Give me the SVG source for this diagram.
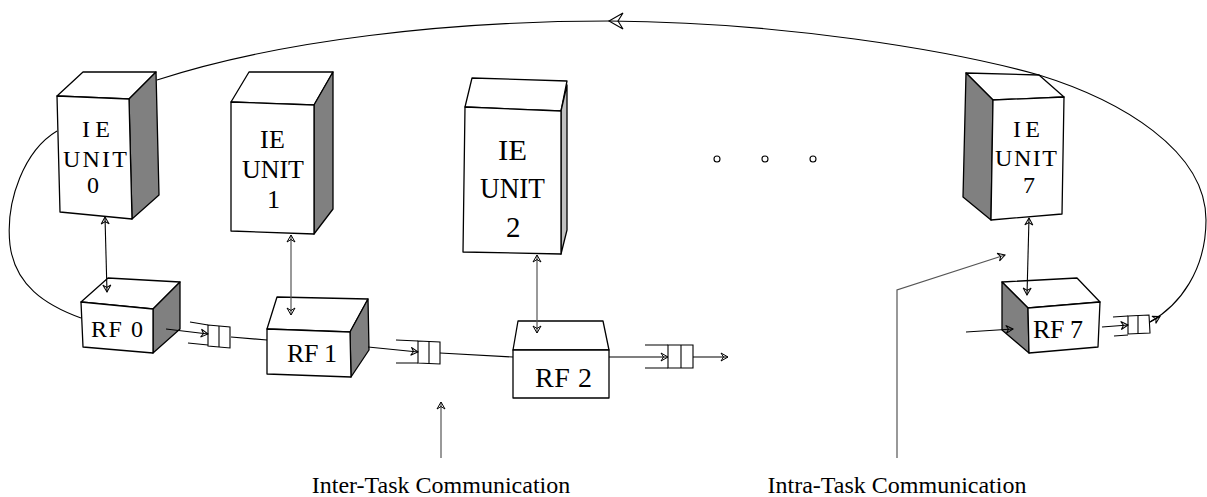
<svg xmlns="http://www.w3.org/2000/svg" width="1207" height="497" viewBox="0 0 1207 497">
<defs>
<style>
.face{fill:#fff;stroke:#000;stroke-width:1.3;stroke-linejoin:round}
.dark{fill:#808080;stroke:#000;stroke-width:1.3;stroke-linejoin:round}
.light{fill:#c0c0c0;stroke:#000;stroke-width:1.3;stroke-linejoin:round}
.t{font-family:"Liberation Serif","Times New Roman",serif;fill:#000}
.ln{fill:none;stroke:#000;stroke-width:1.1}
.gl{fill:none;stroke:#555;stroke-width:1.2}
.q{fill:#fff;stroke:#000;stroke-width:1.1}
.dot{fill:#fff;stroke:#000;stroke-width:1.1}
</style>
<marker id="ah" viewBox="-9 -6 11 12" refX="0" refY="0" markerWidth="11" markerHeight="12" markerUnits="userSpaceOnUse" orient="auto-start-reverse">
<path d="M0,0 L-7,-4 L-4.5,0 L-7,4 Z" fill="none" stroke="#000" stroke-width="1"/>
</marker>
</defs>
<rect width="1207" height="497" fill="#fff"/>

<g id="ie0">
<polygon class="face" points="57,96 83,72 156,72 129,99"/>
<polygon class="dark" points="129,99 156,72 159,195 132,219"/>
<polygon class="face" points="57,96 129,99 132,219 60,212"/>
<text class="t" font-size="24" x="82" y="137" textLength="28" lengthAdjust="spacing">IE</text>
<text class="t" font-size="24" x="63" y="167" textLength="64" lengthAdjust="spacing">UNIT</text>
<text class="t" font-size="24" x="87" y="193">0</text>
</g>
<g id="ie1">
<polygon class="face" points="231,102 249,72 333,72 314,105"/>
<polygon class="dark" points="314,105 333,72 333,209 314,234"/>
<polygon class="face" points="231,102 314,105 314,234 231,231"/>
<text class="t" font-size="26" x="260" y="148" textLength="25" lengthAdjust="spacing">IE</text>
<text class="t" font-size="26" x="242" y="178" textLength="62" lengthAdjust="spacing">UNIT</text>
<text class="t" font-size="26" x="267" y="208">1</text>
</g>
<g id="ie2">
<polygon class="face" points="465,107 472,78 567,81 561,111"/>
<polygon class="light" points="561,111 567,85 567,230 561,254"/>
<polygon class="face" points="465,107 561,111 561,254 463,252"/>
<text class="t" font-size="29" x="498" y="160" textLength="29" lengthAdjust="spacingAndGlyphs">IE</text>
<text class="t" font-size="29" x="480" y="198" textLength="65" lengthAdjust="spacingAndGlyphs">UNIT</text>
<text class="t" font-size="29" x="506" y="237">2</text>
</g>
<g id="ie7">
<polygon class="face" points="966,73 1039,75 1064,97 993,100"/>
<polygon class="dark" points="966,73 993,100 991,220 963,197"/>
<polygon class="face" points="993,100 1064,97 1062,214 991,220"/>
<text class="t" font-size="24" x="1013" y="137" textLength="27" lengthAdjust="spacing">IE</text>
<text class="t" font-size="24" x="995" y="166" textLength="62" lengthAdjust="spacing">UNIT</text>
<text class="t" font-size="24" x="1023" y="193">7</text>
</g>

<g id="rf0">
<polygon class="face" points="81,302 108,278 180,282 153,309"/>
<polygon class="dark" points="153,309 180,282 180,329 153,353"/>
<polygon class="face" points="81,302 153,309 153,353 83,347"/>
<text class="t" font-size="24" x="91" y="337" textLength="52" lengthAdjust="spacing">RF 0</text>
</g>
<g id="rf1">
<polygon class="face" points="267,329 277,297 368,299 350,332"/>
<polygon class="dark" points="350,332 368,299 369,350 351,377"/>
<polygon class="face" points="267,329 350,332 351,377 267,374"/>
<text class="t" font-size="26" x="287" y="362" textLength="50" lengthAdjust="spacing">RF 1</text>
</g>
<g id="rf2">
<polygon class="face" points="513,350 518,321 603,321 609,350"/>
<polygon class="face" points="513,350 609,350 609,398 513,398"/>
<text class="t" font-size="28" x="535" y="387" textLength="57" lengthAdjust="spacing">RF 2</text>
</g>
<g id="rf7">
<polygon class="face" points="1002,282 1077,278 1100,302 1028,308"/>
<polygon class="dark" points="1002,282 1028,308 1029,353 1002,330"/>
<polygon class="face" points="1028,308 1100,302 1098,347 1029,353"/>
<text class="t" font-size="26" x="1033" y="338" textLength="50" lengthAdjust="spacing">RF 7</text>
</g>

<g id="queue0">
<path class="ln" d="M190,322 L208,325 M188,343 L208,345"/>
<path class="q" d="M208,325 L230,327 L230,348 L208,346 Z"/>
<path class="ln" d="M219,326 L219,347"/>
</g>
<g id="queue1">
<path class="ln" d="M396,340 L418,341 M396,363 L418,363"/>
<path class="q" d="M418,341 L440,342 L440,364 L418,363 Z"/>
<path class="ln" d="M429,341 L429,363"/>
</g>
<g id="queue2">
<path class="ln" d="M645,345 L668,345 M645,368 L668,368"/>
<path class="q" d="M668,345 L693,345 L693,368 L668,368 Z"/>
<path class="ln" d="M681,345 L681,368"/>
</g>
<g id="queue7">
<path class="ln" d="M1113,317 L1128,316 M1114,336 L1128,335"/>
<path class="q" d="M1128,316 L1149,315 L1150,333 L1128,334 Z"/>
<path class="ln" d="M1138,316 L1138,334"/>
</g>

<g id="dots">
<circle class="dot" cx="717" cy="159" r="3"/>
<circle class="dot" cx="765" cy="159" r="3"/>
<circle class="dot" cx="813" cy="159" r="3"/>
</g>

<g id="connectors">
<path class="ln" d="M1150,322 C1180,305 1206,270 1206,220 C1206,150 1120,100 1039,75 C950,50 780,22 609,21 C450,21 280,40 157,80"/>
<path d="M609,21 L623,13 L618,21 L623,29 Z" fill="none" stroke="#000" stroke-width="1.1"/>
<path class="ln" d="M1150,322 L1160,316.5" marker-end="url(#ah)"/>
<path class="ln" d="M57,131 C25,150 5,200 10,245 C15,285 45,305 81,318"/>

<path class="ln" d="M105,217 L107,292" marker-start="url(#ah)" marker-end="url(#ah)"/>
<path class="gl" d="M291,235 L291,315" marker-start="url(#ah)" marker-end="url(#ah)"/>
<path class="gl" d="M537,255 L537,333" marker-start="url(#ah)" marker-end="url(#ah)"/>
<path class="ln" d="M1029,218 L1027,295" marker-start="url(#ah)" marker-end="url(#ah)"/>

<path class="ln" d="M166,329 L208,334" marker-end="url(#ah)"/>
<path class="ln" d="M231,337 L267,340"/>
<path class="ln" d="M368,347 L418,352" marker-end="url(#ah)"/>
<path class="ln" d="M440,353 L513,357"/>
<path class="ln" d="M609,357 L668,357" marker-end="url(#ah)"/>
<path class="ln" d="M693,357 L728,357" marker-end="url(#ah)"/>
<path class="ln" d="M966,332 L1013,329" marker-end="url(#ah)"/>
<path class="ln" d="M1102,327 L1128,325" marker-end="url(#ah)"/>

<path class="gl" d="M441,458 L441,402" marker-end="url(#ah)"/>
<path class="gl" d="M897,458 L897,290 L1005,255" marker-end="url(#ah)"/>
</g>

<g id="labels">
<text class="t" font-size="24" x="441" y="493" text-anchor="middle">Inter-Task Communication</text>
<text class="t" font-size="24" x="897" y="493" text-anchor="middle">Intra-Task Communication</text>
</g>
</svg>
